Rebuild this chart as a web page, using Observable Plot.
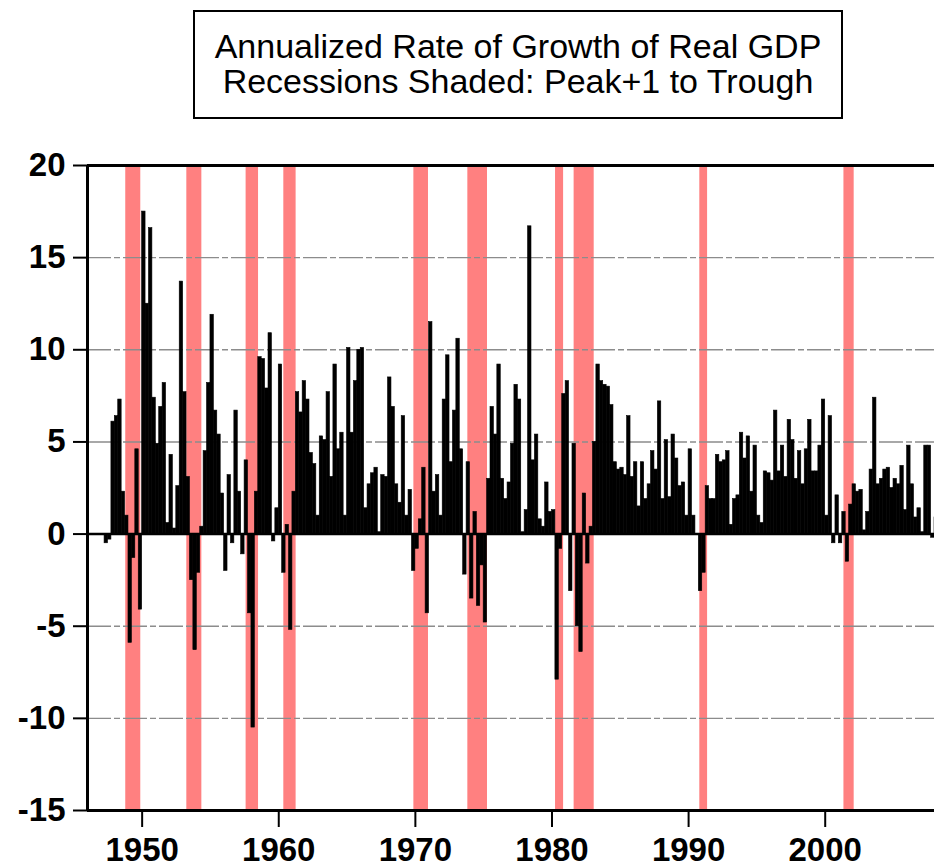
<!DOCTYPE html>
<html>
<head>
<meta charset="utf-8">
<script src="https://cdn.jsdelivr.net/npm/d3@7"></script>
<script src="https://cdn.jsdelivr.net/npm/@observablehq/plot@0.6"></script>
<style>
  html, body { margin: 0; padding: 0; background: #fff; }
  #wrap { position: relative; width: 934px; height: 868px; overflow: hidden; background: #fff; }
  #title {
    position: absolute; left: 193px; top: 10px; width: 646px; height: 103px;
    border: 2px solid #000; box-sizing: content-box;
    font-family: "Liberation Sans", Arial, sans-serif; font-size: 34px;
    text-align: center; color: #000; display: flex; flex-direction: column;
    justify-content: center; line-height: 35px; padding-bottom: 2px;
  }
  #chart { position: absolute; left: 0; top: 0; }
</style>
</head>
<body>
<div id="wrap">
  <div id="chart"></div>
  <div id="title"><div>Annualized Rate of Growth of Real GDP</div><div>Recessions Shaded: Peak+1 to Trough</div></div>
</div>
<script>
// Quarterly annualized real GDP growth (%), first value = 1947 Q2
const firstQuarter = 1947.25;
const growth1940s = [-0.5, -0.3, 6.1, 6.4, 7.3, 2.3, 1.0, -5.9, -1.3, 4.6, -4.1];
const growth1950s = [
  17.5, 12.5, 16.6, 7.4,
  4.9, 6.9, 8.2, 0.6,
  4.3, 0.3, 2.6, 13.7,
  7.7, 3.1, -2.5, -6.3,
  -2.1, 0.4, 4.5, 8.2,
  11.9, 6.7, 5.4, 2.2,
  -2.0, 3.2, -0.5, 6.7,
  2.3, -1.1, 4.0, -4.3,
  -10.5, 2.3, 9.6, 9.5,
  7.9, 10.9, -0.4, 1.4
];
const growth1960s = [
  9.2, -2.1, 0.5, -5.2,
  2.3, 7.7, 6.6, 8.3,
  7.3, 4.4, 3.8, 1.0,
  5.3, 5.1, 7.7, 3.1,
  9.2, 4.6, 5.5, 1.0,
  10.1, 5.5, 8.3, 10.0,
  10.1, 1.4, 2.7, 3.3,
  3.6, 0.1, 3.2, 3.1,
  8.5, 6.9, 2.7, 1.7,
  6.4, 1.0, 2.4, -2.0
];
const growth1970s = [
  -0.8, 0.8, 3.6, -4.3,
  11.5, 2.3, 3.2, 1.0,
  7.3, 9.7, 3.9, 6.7,
  10.6, 4.6, -2.2, 3.9,
  -3.5, 1.2, -3.9, -1.7,
  -4.8, 3.0, 6.9, 5.4,
  9.2, 3.0, 1.9, 2.8,
  4.9, 8.1, 7.3, 0.1,
  1.3, 16.7, 4.0, 5.4,
  0.8, 0.4, 2.8, 1.2
];
const growth1980s = [
  1.3, -7.9, -0.8, 7.6,
  8.3, -3.1, 4.9, -5.0,
  -6.4, 2.2, -1.6, 0.4,
  5.0, 9.2, 8.3, 8.1,
  8.0, 7.0, 3.9, 3.5,
  3.6, 3.2, 6.4, 3.1,
  3.9, 1.5, 3.9, 1.9,
  2.7, 4.5, 3.5, 7.2,
  1.9, 5.1, 2.0, 5.4,
  4.1, 2.6, 2.8, 1.0
];
const growth1990s = [
  4.6, 1.0, 0.0, -3.1,
  -2.1, 2.6, 1.9, 1.9,
  4.3, 3.9, 4.0, 4.5,
  0.5, 1.9, 2.1, 5.5,
  4.1, 5.3, 2.3, 4.8,
  1.0, 0.6, 3.4, 3.3,
  2.9, 6.7, 3.4, 4.8,
  3.1, 6.2, 5.1, 3.0,
  4.5, 2.7, 4.6, 6.2,
  3.4, 3.4, 4.8, 7.3
];
const growth2000s = [
  1.0, 6.4, -0.5, 2.1,
  -0.5, 1.2, -1.5, 1.6,
  2.7, 2.3, 2.4, 0.2,
  1.2, 3.5, 7.4, 2.7,
  3.0, 3.5, 3.6, 2.5,
  3.0, 2.7, 3.7, 1.3,
  4.8, 2.7, 0.9, 1.4,
  0.1, 4.8, 4.8, -0.2,
  0.9
];

// Recession shading (peak+1 to trough), in fractional years
const recessionStart = [1948.80, 1953.27, 1957.61, 1960.37, 1969.89, 1973.84, 1980.26, 1981.62, 1990.82, 2001.37];
const recessionEnd   = [1949.90, 1954.37, 1958.52, 1961.27, 1970.96, 1975.28, 1980.85, 1983.09, 1991.39, 2002.12];

const xTicks = [1950, 1960, 1970, 1980, 1990, 2000];
const yTicks = [-15, -10, -5, 0, 5, 10, 15, 20];
const gridValues = [-10, -5, 5, 10, 15];

const values = [...growth1940s, ...growth1950s, ...growth1960s, ...growth1970s, ...growth1980s, ...growth1990s, ...growth2000s];
const bars = values.map((v, i) => ({t0: firstQuarter + i * 0.25, t1: firstQuarter + (i + 1) * 0.25, v}));
const recessions = recessionStart.map((s, i) => ({s, e: recessionEnd[i]}));

const fmt = d => String(d);
const chart = Plot.plot({
  width: 934,
  height: 868,
  marginTop: 165,
  marginBottom: 58,
  marginLeft: 87,
  marginRight: 0,
  x: {domain: [1946, 2008]},
  y: {domain: [-15, 20]},
  style: {fontFamily: "'Liberation Sans', Arial, sans-serif", color: "#000", background: "transparent"},
  marks: [
    Plot.rect(recessions, {x1: "s", x2: "e", fill: "#ff8080"}),
    Plot.ruleY(gridValues, {stroke: "#8c8c8c", strokeWidth: 1.4, strokeDasharray: "24,3,6,3"}),
    Plot.rect(bars, {x1: "t0", x2: "t1", y1: 0, y2: "v", fill: "#000", stroke: "#000", strokeWidth: 0.6}),
    Plot.ruleY([0], {stroke: "#000", strokeWidth: 2.5}),
    Plot.ruleY([20], {stroke: "#000", strokeWidth: 3}),
    Plot.ruleY([-15], {stroke: "#000", strokeWidth: 3}),
    Plot.ruleX([1946], {stroke: "#000", strokeWidth: 3}),
    Plot.axisX({ticks: xTicks, tickFormat: fmt, tickSize: 17, tickPadding: 10, fontSize: 33, fontWeight: "bold", strokeWidth: 2, label: null}),
    Plot.axisY({ticks: yTicks, tickFormat: fmt, tickSize: 14, tickPadding: 8, fontSize: 33, fontWeight: "bold", strokeWidth: 2, label: null})
  ]
});
document.getElementById("chart").appendChild(chart);
</script>
</body>
</html>
